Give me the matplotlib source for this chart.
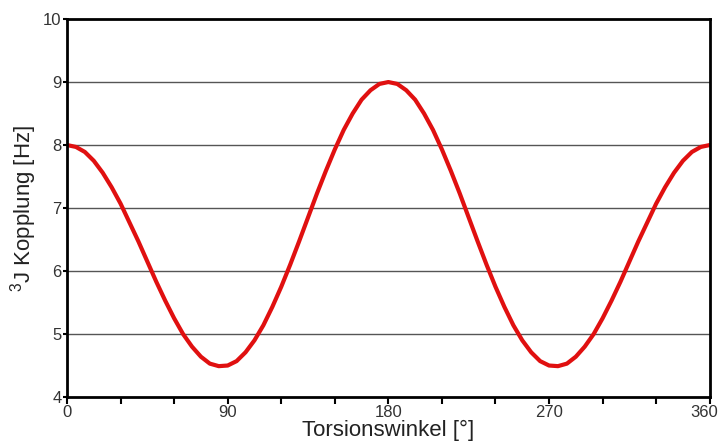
import matplotlib
matplotlib.use("Agg")
import matplotlib.pyplot as plt
import matplotlib.transforms as mtransforms
import numpy as np

plt.rcParams["font.family"] = ["Liberation Sans", "DejaVu Sans"]
plt.rcParams["mathtext.fontset"] = "custom"
plt.rcParams["mathtext.rm"] = "Liberation Sans"

# torsion angle (deg) and 3J coupling (Hz)
angle = list(range(0, 361, 5))
coupling = [
    8.00, 7.97, 7.89, 7.75, 7.56, 7.33, 7.07, 6.77, 6.47, 6.15,
    5.83, 5.53, 5.25, 5.00, 4.80, 4.64, 4.53, 4.49, 4.50, 4.57,
    4.71, 4.90, 5.14, 5.43, 5.75, 6.10, 6.47, 6.85, 7.23, 7.59,
    7.93, 8.24, 8.50, 8.72, 8.87, 8.97, 9.00,
    8.97, 8.87, 8.72, 8.50, 8.24, 7.93, 7.59, 7.23, 6.85, 6.47,
    6.10, 5.75, 5.43, 5.14, 4.90, 4.71, 4.57, 4.50, 4.49, 4.53,
    4.64, 4.80, 5.00, 5.25, 5.53, 5.83, 6.15, 6.47, 6.77, 7.07,
    7.33, 7.56, 7.75, 7.89, 7.97, 8.00,
]
x_major = [0, 90, 180, 270, 360]
x_minor = [30, 60, 120, 150, 210, 240, 300, 330]
y_ticks = [4, 5, 6, 7, 8, 9, 10]

fig = plt.figure(figsize=(7.22, 4.43), dpi=100)
ax = fig.add_axes([0.0928, 0.1038, 0.8902, 0.8532])

for y in y_ticks[1:-1]:
    ax.axhline(y, color="#555555", lw=1.0, zorder=1)

ax.plot(angle, coupling, color="#e01010", lw=3, zorder=3, solid_capstyle="round")

ax.set_xlim(0, 360)
ax.set_ylim(4, 10)
ax.set_xticks(x_major)
ax.set_xticks(x_minor, minor=True)
ax.set_yticks(y_ticks)
ax.tick_params(axis="x", which="both", direction="out", length=5, width=1.5,
               labelsize=12, labelcolor="#333333", pad=1)
ax.tick_params(axis="y", direction="out", length=3, width=1.5,
               labelsize=12, labelcolor="#333333", pad=1)

# nudge the last x label so it stays inside the canvas
last = ax.get_xticklabels()[-1]
last.set_transform(last.get_transform() +
                   mtransforms.ScaledTranslation(-4 / 72, 0, fig.dpi_scale_trans))

for s in ax.spines.values():
    s.set_linewidth(2)
    s.set_color("black")
    s.set_zorder(4)

ax.set_xlabel("Torsionswinkel [°]", fontsize=16, color="#222222", labelpad=0)
ax.set_ylabel("$^3$J Kopplung [Hz]", fontsize=16, color="#222222", labelpad=3)

fig.savefig("out.png", dpi=100)
